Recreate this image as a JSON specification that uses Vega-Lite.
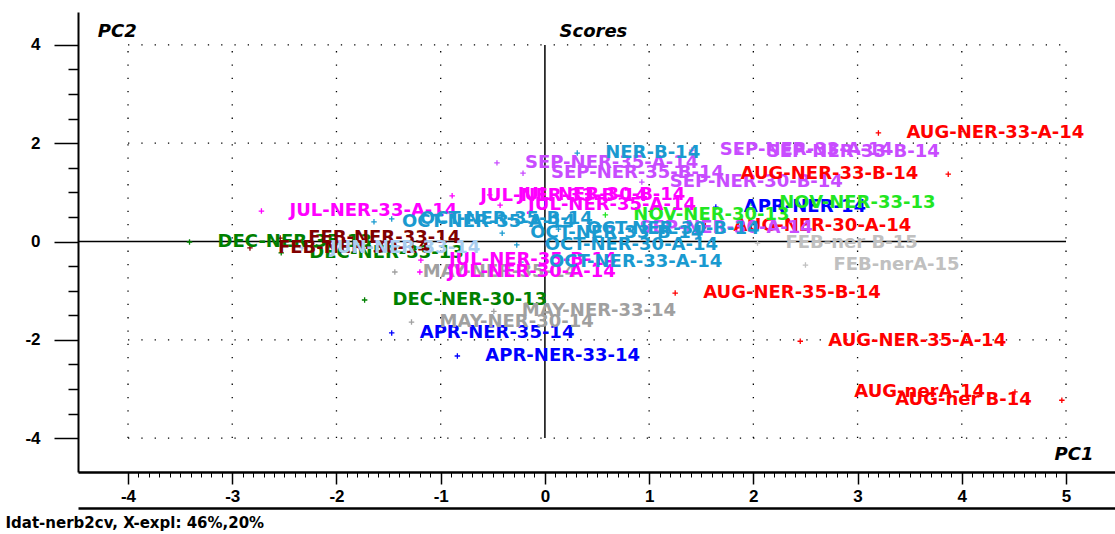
{
  "$schema": "https://vega.github.io/schema/vega-lite/v6.json",
  "width": 1037,
  "height": 460,
  "autosize": {"type": "none"},
  "padding": {"left": 78, "top": 12, "right": 0, "bottom": 62},
  "background": "white",
  "config": {"view": {"stroke": null}, "axis": {"grid": false}},
  "datasets": {
    "scores": [
      {"label": "AUG-NER-33-A-14", "group": "AUG", "pc1": 3.20, "pc2": 2.21},
      {"label": "AUG-NER-33-B-14", "group": "AUG", "pc1": 3.87, "pc2": 1.37},
      {"label": "AUG-NER-35-A-14", "group": "AUG", "pc1": 2.45, "pc2": -2.03},
      {"label": "AUG-NER-35-B-14", "group": "AUG", "pc1": 1.25, "pc2": -1.05},
      {"label": "AUG-NER-30-A-14", "group": "AUG", "pc1": 1.54, "pc2": 0.32},
      {"label": "AUG-nerA-14", "group": "AUG", "pc1": 4.51, "pc2": -3.06},
      {"label": "AUG-ner B-14", "group": "AUG", "pc1": 4.96, "pc2": -3.23},
      {"label": "APR-NER-14", "group": "APR", "pc1": 1.64, "pc2": 0.70},
      {"label": "APR-NER-35-14", "group": "APR", "pc1": -1.47, "pc2": -1.86},
      {"label": "APR-NER-33-14", "group": "APR", "pc1": -0.84, "pc2": -2.33},
      {"label": "NOV-NER-33-13", "group": "NOV", "pc1": 1.98, "pc2": 0.78},
      {"label": "NOV-NER-30-13", "group": "NOV", "pc1": 0.58, "pc2": 0.54},
      {"label": "DEC-NER-35-13", "group": "DEC", "pc1": -3.41, "pc2": -0.01},
      {"label": "DEC-NER-33-13", "group": "DEC", "pc1": -2.53, "pc2": -0.23},
      {"label": "DEC-NER-30-13", "group": "DEC", "pc1": -1.73, "pc2": -1.19},
      {"label": "FEB-NER-33-14", "group": "FEB-NER", "pc1": -2.54, "pc2": 0.07},
      {"label": "FEB-NER-30-14", "group": "FEB-NER", "pc1": -2.83, "pc2": -0.13},
      {"label": "FEB-ner B-15", "group": "FEB-ner", "pc1": 2.04, "pc2": -0.03},
      {"label": "FEB-nerA-15", "group": "FEB-ner", "pc1": 2.50, "pc2": -0.48},
      {"label": "MAY-NER-30-14", "group": "MAY", "pc1": -1.28, "pc2": -1.64},
      {"label": "MAY-NER-33-14", "group": "MAY", "pc1": -0.49, "pc2": -1.42},
      {"label": "MAY-NER-35-14", "group": "MAY", "pc1": -1.44, "pc2": -0.62},
      {"label": "JUL-NER-33-A-14", "group": "JUL", "pc1": -2.72, "pc2": 0.62},
      {"label": "JUL-NER-33-B-14", "group": "JUL", "pc1": -0.89, "pc2": 0.93},
      {"label": "JUL-NER-30-B-14", "group": "JUL", "pc1": -0.53, "pc2": 0.95},
      {"label": "JUL-NER-35-A-14", "group": "JUL", "pc1": -0.43, "pc2": 0.74},
      {"label": "JUL-NER-35-B-14", "group": "JUL", "pc1": -1.19, "pc2": -0.38},
      {"label": "JUL-NER-30-A-14", "group": "JUL", "pc1": -1.20, "pc2": -0.62},
      {"label": "SEP-NER-35-A-14", "group": "SEP", "pc1": -0.46, "pc2": 1.60},
      {"label": "SEP-NER-35-B-14", "group": "SEP", "pc1": -0.21, "pc2": 1.39},
      {"label": "SEP-NER-30-B-14", "group": "SEP", "pc1": 0.93, "pc2": 1.21},
      {"label": "SEP-NER-33-A-14", "group": "SEP", "pc1": 1.41, "pc2": 1.86},
      {"label": "SEP-NER-33-B-14", "group": "SEP", "pc1": 1.86, "pc2": 1.82},
      {"label": "SEP-NER-30-A-14", "group": "SEP", "pc1": 0.64, "pc2": 0.28},
      {"label": "NER-B-14", "group": "OCT", "pc1": 0.31, "pc2": 1.80},
      {"label": "OCT-NER-35-A-14", "group": "OCT", "pc1": -1.64, "pc2": 0.40},
      {"label": "OCT-NER-35-B-14", "group": "OCT", "pc1": -1.47, "pc2": 0.46},
      {"label": "OCT-NER-33-B-14", "group": "OCT", "pc1": -0.41, "pc2": 0.17},
      {"label": "OCT-NER-30-B-14", "group": "OCT", "pc1": 0.13, "pc2": 0.25},
      {"label": "OCT-NER-30-A-14", "group": "OCT", "pc1": -0.27, "pc2": -0.07},
      {"label": "OCT-NER-33-A-14", "group": "OCT", "pc1": -0.23, "pc2": -0.42},
      {"label": "JUN-NER-33-14", "group": "JUN", "pc1": -2.33, "pc2": -0.13}
    ],
    "gridx": [{"gx": -4}, {"gx": -3}, {"gx": -2}, {"gx": -1}, {"gx": 1}, {"gx": 2}, {"gx": 3}, {"gx": 4}, {"gx": 5}],
    "gridy": [{"gy": 4}, {"gy": 2}, {"gy": -2}, {"gy": -4}],
    "zero": [
      {"xa": -4.48, "xb": 5, "ya": 0, "yb": 0},
      {"xa": 0, "xb": 0, "ya": -4, "yb": 4}
    ],
    "titles": [
      {"t": "PC2", "tx": -4.29, "ty": 4.26},
      {"t": "Scores", "tx": 0.14, "ty": 4.26},
      {"t": "PC1", "tx": 4.89, "ty": -4.35}
    ]
  },
  "layer": [
    {
      "data": {"name": "gridx"},
      "mark": {"type": "rule", "color": "black", "strokeWidth": 1.3, "strokeDash": [1.3, 12]},
      "encoding": {
        "x": {"field": "gx", "type": "quantitative",
          "scale": {"domain": [-4.48, 5.47], "nice": false, "zero": false},
          "axis": {"orient": "bottom", "values": [-4, -3, -2, -1, 0, 1, 2, 3, 4, 5],
            "tickSize": 12, "tickWidth": 1.5, "tickColor": "black",
            "domainColor": "black", "domainWidth": 2.5,
            "labelFont": "Liberation Sans", "labelFontWeight": "bold", "labelFontSize": 17, "labelColor": "black",
            "labelPadding": 4, "labelFlush": false, "labelOverlap": false,
            "labelExpr": "datum.value < 0 ? '-' + abs(datum.value) : '' + datum.value",
            "title": "Idat-nerb2cv, X-expl: 46%,20%", "titleX": -73, "titleY": 50,
            "titleAlign": "left", "titleBaseline": "middle",
            "titleFont": "DejaVu Sans", "titleFontWeight": "bold", "titleFontSize": 15, "titleColor": "black"}},
        "y": {"datum": -4, "type": "quantitative",
          "scale": {"domain": [-4.69, 4.67], "nice": false, "zero": false}, "axis": null},
        "y2": {"datum": 4}
      }
    },
    {
      "data": {"name": "gridy"},
      "mark": {"type": "rule", "color": "black", "strokeWidth": 1.3, "strokeDash": [1.3, 12]},
      "encoding": {
        "y": {"field": "gy", "type": "quantitative",
          "scale": {"domain": [-4.69, 4.67], "nice": false, "zero": false},
          "axis": {"orient": "left", "values": [-4, -2, 0, 2, 4],
            "tickSize": 24, "tickWidth": 1.5, "tickColor": "black",
            "domainColor": "black", "domainWidth": 2,
            "labelFont": "Liberation Sans", "labelFontWeight": "bold", "labelFontSize": 17, "labelColor": "black",
            "labelPadding": 14,
            "labelExpr": "datum.value < 0 ? '-' + abs(datum.value) : '' + datum.value",
            "title": null}},
        "x": {"datum": -4, "type": "quantitative",
          "scale": {"domain": [-4.48, 5.47], "nice": false, "zero": false}, "axis": null},
        "x2": {"datum": 5}
      }
    },
    {
      "data": {"name": "zero"},
      "mark": {"type": "rule", "color": "black", "strokeWidth": 1.5},
      "encoding": {
        "x": {"field": "xa", "type": "quantitative",
          "scale": {"domain": [-4.48, 5.47], "nice": false, "zero": false},
          "axis": {"orient": "bottom", "labels": false, "domain": false, "title": null,
            "tickSize": 5, "tickWidth": 1, "tickColor": "black",
            "values": [-3.9, -3.8, -3.7, -3.6, -3.5, -3.4, -3.3, -3.2, -3.1,
              -2.9, -2.8, -2.7, -2.6, -2.5, -2.4, -2.3, -2.2, -2.1,
              -1.9, -1.8, -1.7, -1.6, -1.5, -1.4, -1.3, -1.2, -1.1,
              -0.9, -0.8, -0.7, -0.6, -0.5, -0.4, -0.3, -0.2, -0.1,
              0.1, 0.2, 0.3, 0.4, 0.5, 0.6, 0.7, 0.8, 0.9,
              1.1, 1.2, 1.3, 1.4, 1.5, 1.6, 1.7, 1.8, 1.9,
              2.1, 2.2, 2.3, 2.4, 2.5, 2.6, 2.7, 2.8, 2.9,
              3.1, 3.2, 3.3, 3.4, 3.5, 3.6, 3.7, 3.8, 3.9,
              4.1, 4.2, 4.3, 4.4, 4.5, 4.6, 4.7, 4.8, 4.9]}},
        "x2": {"field": "xb"},
        "y": {"field": "ya", "type": "quantitative",
          "scale": {"domain": [-4.69, 4.67], "nice": false, "zero": false},
          "axis": {"orient": "left", "labels": false, "domain": false, "title": null,
            "tickSize": 10, "tickWidth": 1.5, "tickColor": "black",
            "values": [-3.5, -3, -2.5, -1.5, -1, -0.5, 0.5, 1, 1.5, 2.5, 3, 3.5]}},
        "y2": {"field": "yb"}
      }
    },
    {
      "data": {"name": "scores"},
      "mark": {"type": "point", "shape": "M-1,0H1M0,-1V1", "filled": false, "size": 30, "strokeWidth": 1.3, "opacity": 1},
      "encoding": {
        "x": {"field": "pc1", "type": "quantitative",
          "scale": {"domain": [-4.48, 5.47], "nice": false, "zero": false},
          "axis": {"orient": "bottom", "offset": 36, "labels": false, "ticks": false,
            "domain": true, "domainColor": "black", "domainWidth": 2.5, "title": null}},
        "y": {"field": "pc2", "type": "quantitative",
          "scale": {"domain": [-4.69, 4.67], "nice": false, "zero": false}, "axis": null},
        "color": {"field": "group", "type": "nominal", "legend": null,
          "scale": {"domain": ["AUG", "APR", "NOV", "DEC", "FEB-NER", "FEB-ner", "MAY", "JUL", "SEP", "OCT", "JUN"],
            "range": ["#ff0000", "#0000ff", "#22e622", "#008000", "#800000", "#c0c0c0", "#a0a0a0", "#ff00ff", "#c84cff", "#1a9ad0", "#a8cdf0"]}}
      }
    },
    {
      "data": {"name": "scores"},
      "transform": [{"filter": "datum.pc1 < 3.5"}],
      "mark": {"type": "text", "align": "left", "baseline": "middle", "dx": 28,
        "font": "DejaVu Sans", "fontWeight": "bold", "fontSize": 18},
      "encoding": {
        "x": {"field": "pc1", "type": "quantitative", "axis": null},
        "y": {"field": "pc2", "type": "quantitative", "axis": null},
        "text": {"field": "label"},
        "color": {"field": "group", "type": "nominal", "legend": null}
      }
    },
    {
      "data": {"name": "scores"},
      "transform": [{"filter": "datum.pc1 >= 3.5"}],
      "mark": {"type": "text", "align": "right", "baseline": "middle", "dx": -30,
        "font": "DejaVu Sans", "fontWeight": "bold", "fontSize": 18},
      "encoding": {
        "x": {"field": "pc1", "type": "quantitative", "axis": null},
        "y": {"field": "pc2", "type": "quantitative", "axis": null},
        "text": {"field": "label"},
        "color": {"field": "group", "type": "nominal", "legend": null}
      }
    },
    {
      "data": {"name": "titles"},
      "mark": {"type": "text", "align": "left", "baseline": "middle", "color": "black",
        "font": "DejaVu Sans", "fontStyle": "italic", "fontWeight": "bold", "fontSize": 18},
      "encoding": {
        "x": {"field": "tx", "type": "quantitative", "axis": null},
        "y": {"field": "ty", "type": "quantitative", "axis": null},
        "text": {"field": "t"}
      }
    }
  ],
  "resolve": {"axis": {"x": "independent", "y": "independent"}}
}
